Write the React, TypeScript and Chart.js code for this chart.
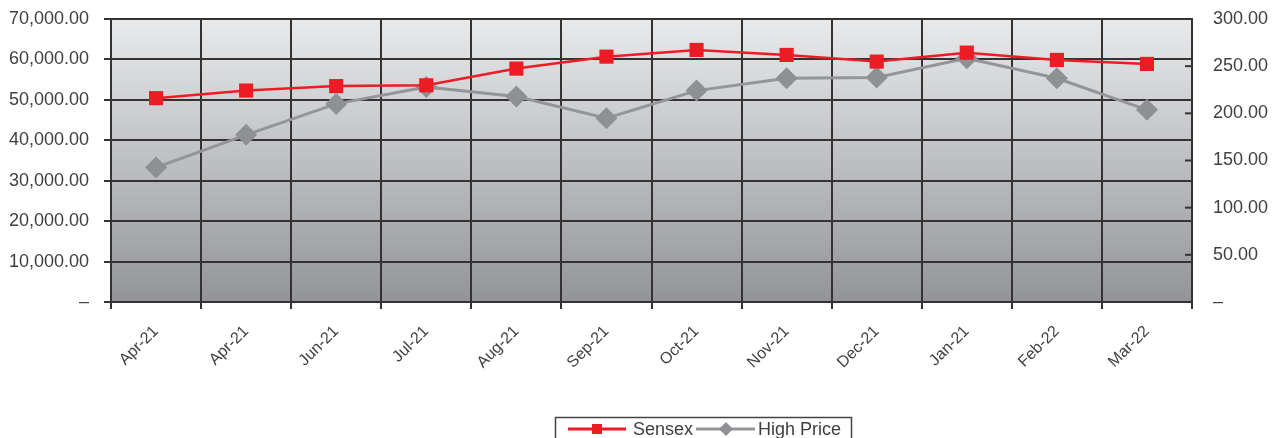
import React, { useEffect, useRef } from "react";
import { Chart, registerables } from "chart.js";

Chart.register(...registerables);

const categories = ["Apr-21", "Apr-21", "Jun-21", "Jul-21", "Aug-21", "Sep-21", "Oct-21", "Nov-21", "Dec-21", "Jan-21", "Feb-22", "Mar-22"];
const sensex = [50420, 52300, 53400, 53600, 57730, 60690, 62350, 61110, 59460, 61680, 59880, 58890];
const highPrice = [142.6, 177.2, 210.0, 228.0, 217.8, 194.9, 224.1, 237.2, 237.9, 258.4, 237.2, 203.7];
const leftTicksMax = 70000;
const leftStep = 10000;
const rightTicksMax = 300;
const rightStep = 50;

const RED = "#ed1c24";
const GRAY = "#939598";
const GRID = "#333333";
const TEXT = "#404040";
const FONT = "'Liberation Sans', Arial, sans-serif";

const bgPlugin = {
  id: "plotBg",
  beforeDraw(chart: any) {
    const { ctx, chartArea } = chart;
    if (!chartArea) return;
    const g = ctx.createLinearGradient(0, chartArea.top, 0, chartArea.bottom);
    g.addColorStop(0, "#e9eaec");
    g.addColorStop(1, "#939497");
    ctx.save();
    ctx.fillStyle = g;
    ctx.fillRect(chartArea.left, chartArea.top, chartArea.right - chartArea.left, chartArea.bottom - chartArea.top);
    ctx.restore();
  },
};

const rightTickPlugin = {
  id: "rightTicks",
  afterDraw(chart: any) {
    const { ctx } = chart;
    const s = chart.scales.y1;
    if (!s) return;
    ctx.save();
    ctx.strokeStyle = GRID;
    ctx.lineWidth = 2;
    s.ticks.forEach((t: any) => {
      const y = s.getPixelForValue(t.value);
      ctx.beginPath();
      ctx.moveTo(s.left - 7, y);
      ctx.lineTo(s.left + 1, y);
      ctx.stroke();
    });
    ctx.restore();
  },
};

const legendPlugin = {
  id: "customLegend",
  afterDraw(chart: any) {
    const { ctx } = chart;
    const ds = chart.data.datasets;
    ctx.save();
    ctx.strokeStyle = "#444";
    ctx.lineWidth = 1.5;
    ctx.strokeRect(555.5, 417.5, 296, 40);
    ctx.font = `18px ${FONT}`;
    ctx.fillStyle = TEXT;
    ctx.textBaseline = "alphabetic";
    const cy = 429;
    ctx.strokeStyle = ds[0].borderColor;
    ctx.lineWidth = 3;
    ctx.beginPath();
    ctx.moveTo(568, cy);
    ctx.lineTo(626, cy);
    ctx.stroke();
    ctx.fillStyle = ds[0].pointBackgroundColor;
    ctx.fillRect(592, cy - 5, 10, 10);
    ctx.fillStyle = TEXT;
    ctx.fillText(ds[0].label, 633, 435);
    ctx.strokeStyle = ds[1].borderColor;
    ctx.beginPath();
    ctx.moveTo(696, cy);
    ctx.lineTo(755, cy);
    ctx.stroke();
    ctx.fillStyle = ds[1].pointBackgroundColor;
    ctx.beginPath();
    ctx.moveTo(726, cy - 7);
    ctx.lineTo(733, cy);
    ctx.lineTo(726, cy + 7);
    ctx.lineTo(719, cy);
    ctx.closePath();
    ctx.fill();
    ctx.fillStyle = TEXT;
    ctx.fillText(ds[1].label, 758, 435);
    ctx.restore();
  },
};

export default function App() {
  const ref = useRef<HTMLCanvasElement>(null);
  useEffect(() => {
    if (!ref.current) return;
    const chart = new Chart(ref.current, {
      type: "line",
      data: {
        labels: categories,
        datasets: [
          {
            label: "Sensex",
            data: sensex,
            yAxisID: "y",
            borderColor: RED,
            backgroundColor: RED,
            pointBackgroundColor: RED,
            pointBorderColor: RED,
            pointStyle: "rect",
            pointRadius: 10,
            pointBorderWidth: 0,
            borderWidth: 2.5,
            tension: 0,
          },
          {
            label: "High Price",
            data: highPrice,
            yAxisID: "y1",
            borderColor: GRAY,
            backgroundColor: "#8f9093",
            pointBackgroundColor: "#8f9093",
            pointBorderColor: "#8f9093",
            pointStyle: "rectRot",
            pointRadius: 11,
            pointBorderWidth: 0,
            borderWidth: 3,
            tension: 0,
          },
        ],
      },
      options: {
        responsive: false,
        animation: false,
        layout: { padding: { top: 19, left: 0, right: 0, bottom: 0 } },
        plugins: { legend: { display: false }, tooltip: { enabled: false } },
        scales: {
          x: {
            offset: true,
            grid: { offset: true, color: GRID, lineWidth: 2, tickLength: 7, tickColor: GRID },
            border: { color: GRID, width: 2 },
            ticks: {
              autoSkip: false,
              minRotation: 45,
              maxRotation: 45,
              padding: 13,
              color: TEXT,
              font: { family: FONT, size: 16 },
            },
            afterFit(scale: any) {
              scale.height = 136;
              scale.paddingLeft = 0;
              scale.paddingRight = 0;
            },
          },
          y: {
            position: "left",
            min: 0,
            max: leftTicksMax,
            ticks: {
              stepSize: leftStep,
              padding: 15,
              color: TEXT,
              font: { family: FONT, size: 18 },
              callback: (v: any) =>
                Number(v) === 0
                  ? "–"
                  : Number(v).toLocaleString("en-US", { minimumFractionDigits: 2, maximumFractionDigits: 2 }),
            },
            grid: { color: GRID, lineWidth: 2, tickLength: 7, tickColor: GRID },
            border: { color: GRID, width: 2 },
            afterFit(scale: any) {
              scale.width = 111;
              scale.paddingTop = 0;
              scale.paddingBottom = 0;
            },
          },
          y1: {
            position: "right",
            min: 0,
            max: rightTicksMax,
            ticks: {
              stepSize: rightStep,
              padding: 21,
              color: TEXT,
              font: { family: FONT, size: 18 },
              callback: (v: any) => (Number(v) === 0 ? "–" : Number(v).toFixed(2)),
            },
            grid: { drawOnChartArea: false, drawTicks: false },
            border: { color: GRID, width: 2 },
            afterFit(scale: any) {
              scale.width = 90;
              scale.paddingTop = 0;
              scale.paddingBottom = 0;
            },
          },
        },
      },
      plugins: [bgPlugin, rightTickPlugin, legendPlugin],
    } as any);
    return () => chart.destroy();
  }, []);
  return (
    <div style={{ position: "absolute", left: 0, top: 0, width: 1282, height: 438, background: "#fff" }}>
      <canvas ref={ref} width={1282} height={438} style={{ display: "block" }} />
    </div>
  );
}
